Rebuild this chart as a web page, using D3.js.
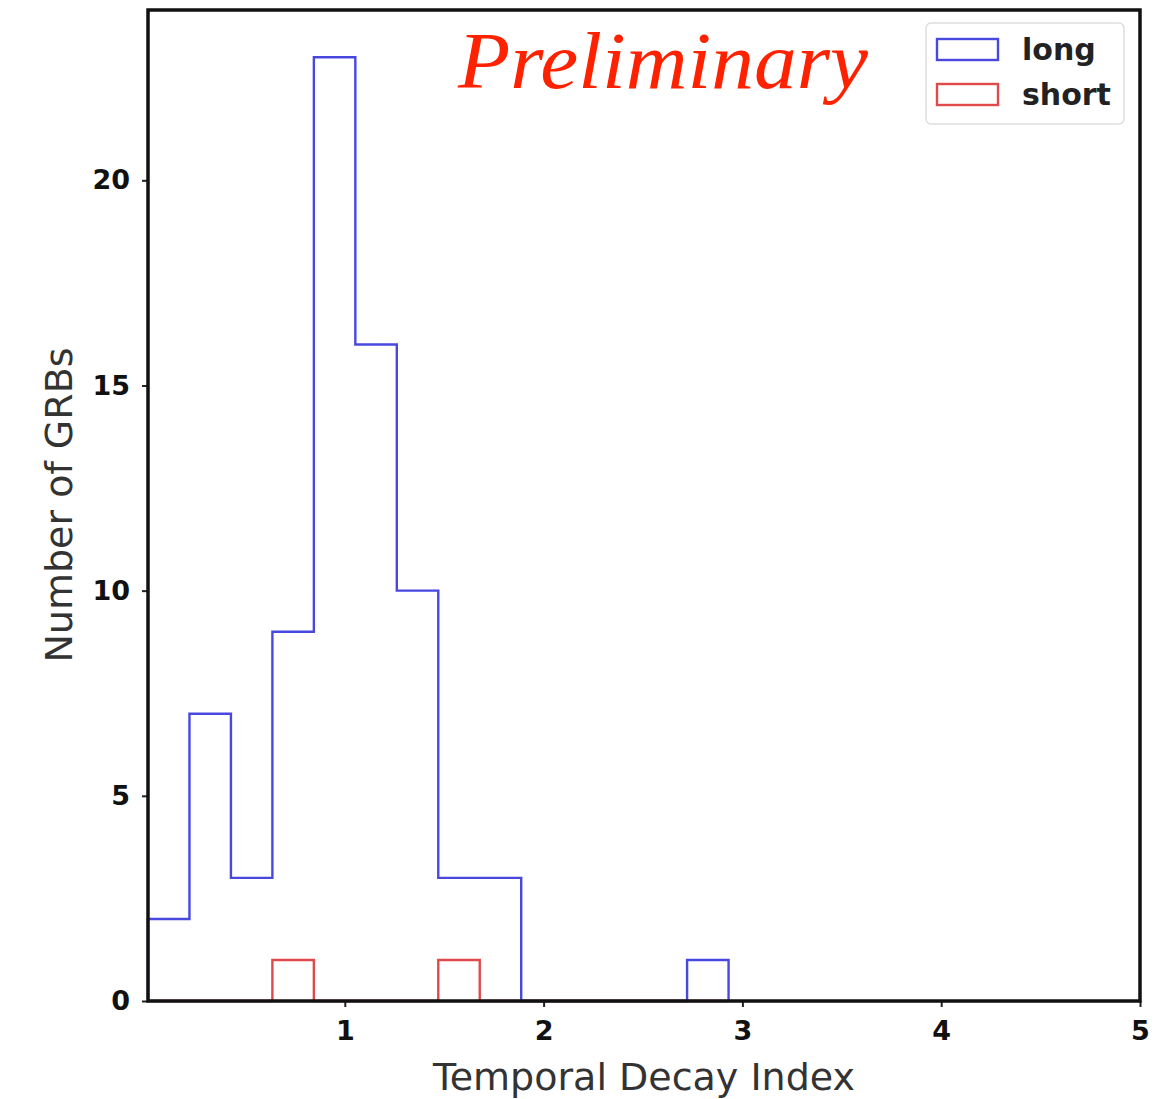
<!DOCTYPE html>
<html><head><meta charset="utf-8">
<script src="https://cdn.jsdelivr.net/npm/d3@7/dist/d3.min.js"></script>
<style>body{margin:0;background:#fff}</style>
</head><body>
<script>
const binStart = 0.01, binWidth = 0.2086, nBins = 14;
const longCounts  = [2, 7, 3, 9, 23, 16, 10, 3, 3, 0, 0, 0, 0, 1];
const shortCounts = [0, 0, 0, 1, 0, 0, 0, 1, 0, 0, 0, 0, 0, 0];
const xTicks = [1, 2, 3, 4, 5];
const yTicks = [0, 5, 10, 15, 20];
const legendLabels = ["long", "short"];
const seriesColors = ["#4848e0", "#e04a4a"];

const W = 1176, H = 1099;
const m = {left: 148, right: 36, top: 10, bottom: 98};
const svg = d3.select("body").append("svg").attr("width", W).attr("height", H);
const x = d3.scaleLinear().domain([0, 5]).range([m.left - 2, W - m.right]);
const y = d3.scaleLinear().domain([0, 24.15]).range([H - m.bottom, m.top]);

const edges = d3.range(nBins + 1).map(k => binStart + k * binWidth);
function stepPts(counts) {
  const pts = [[edges[0], 0]];
  counts.forEach((c, i) => { pts.push([edges[i], c]); pts.push([edges[i + 1], c]); });
  pts.push([edges[nBins], 0]);
  return pts;
}
const line = d3.line().x(d => x(d[0])).y(d => y(d[1]));
[longCounts, shortCounts].forEach((c, i) => {
  svg.append("path").attr("d", line(stepPts(c))).attr("fill", "none")
    .attr("stroke", seriesColors[i]).attr("stroke-width", 2.4);
});

// axes
const xa = svg.append("g").attr("transform", `translate(0,${H - m.bottom})`)
  .call(d3.axisBottom(x).tickValues(xTicks).tickSize(6).tickPadding(14).tickFormat(d3.format("d")));
const ya = svg.append("g").attr("transform", `translate(${m.left},0)`)
  .call(d3.axisLeft(y).tickValues(yTicks).tickSize(6).tickPadding(12).tickFormat(d3.format("d")));
[xa, ya].forEach(a => {
  a.select(".domain").remove();
  a.selectAll(".tick line").attr("stroke", "#222").attr("stroke-width", 2);
  a.selectAll("text").attr("font-family", "DejaVu Sans").attr("font-weight", "bold")
    .attr("font-size", 27).attr("fill", "#111");
});
// frame
svg.append("rect").attr("x", m.left).attr("y", m.top)
  .attr("width", x(5) - m.left).attr("height", y(0) - m.top)
  .attr("fill", "none").attr("stroke", "#111").attr("stroke-width", 3.5);

svg.append("text").attr("x", 644).attr("y", 1090).attr("text-anchor", "middle")
  .attr("font-family", "DejaVu Sans").attr("font-size", 38).attr("fill", "#333")
  .text("Temporal Decay Index");
svg.append("text").attr("transform", `translate(72,505) rotate(-90)`).attr("text-anchor", "middle")
  .attr("font-family", "DejaVu Sans").attr("font-size", 38).attr("fill", "#333")
  .text("Number of GRBs");

svg.append("text").attr("x", 458).attr("y", 88)
  .attr("font-family", "Liberation Serif").attr("font-style", "italic")
  .attr("font-size", 80).attr("textLength", 410).attr("lengthAdjust", "spacingAndGlyphs")
  .attr("fill", "#ff2200").text("Preliminary");

// legend
const lg = svg.append("g");
lg.append("rect").attr("x", 926).attr("y", 23).attr("width", 198).attr("height", 101).attr("rx", 5)
  .attr("fill", "#fff").attr("stroke", "#ddd").attr("stroke-width", 1.5);
legendLabels.forEach((l, i) => {
  lg.append("rect").attr("x", 937).attr("y", 39 + i * 45).attr("width", 61).attr("height", 21)
    .attr("fill", "none").attr("stroke", seriesColors[i]).attr("stroke-width", 2.4);
  lg.append("text").attr("x", 1022).attr("y", 60 + i * 45).attr("font-family", "DejaVu Sans")
    .attr("font-weight", "bold").attr("font-size", 30).attr("fill", "#222").text(l);
});
</script>
</body></html>
